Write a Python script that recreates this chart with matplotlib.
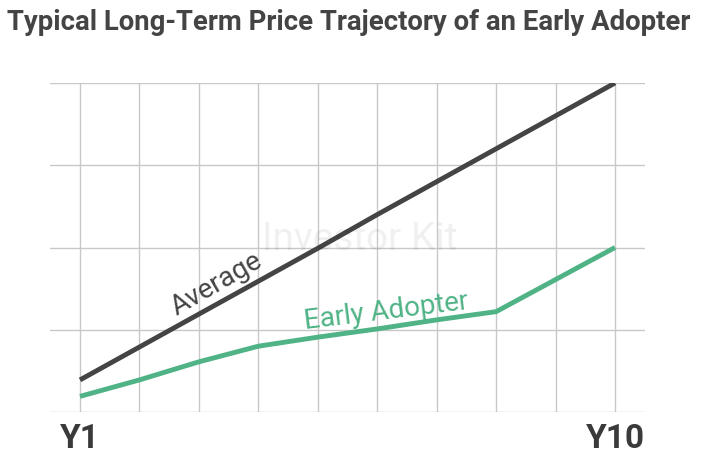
import matplotlib
matplotlib.use("Agg")
import matplotlib.pyplot as plt
import numpy as np

years = list(range(1, 11))
average = [0.39, 0.79, 1.19, 1.59, 1.99, 2.40, 2.80, 3.20, 3.60, 4.0]
early = [0.19, 0.39, 0.61, 0.80, 0.91, 1.01, 1.12, 1.22, 1.61, 2.0]
tick_labels = {1: "Y1", 10: "Y10"}

plt.rcParams['font.family'] = ['Roboto', 'DejaVu Sans']
fig = plt.figure(figsize=(7.04, 4.59), dpi=100)
ax = fig.add_axes([50/704, 1-412/459, 595/704, 329/459])
xmin = 1 - (80-50)/(615-80)*9
xmax = 10 + (645-615)/(615-80)*9
ax.set_xlim(xmin, xmax)
ax.set_ylim(0, 4)
ax.set_xticks(years)
ax.set_yticks([0, 1, 2, 3, 4])
ax.grid(True, color='#c8c8c8', lw=1)
ax.tick_params(length=0, pad=8)
ax.set_yticklabels([])
ax.set_xticklabels([tick_labels.get(y, "") for y in years], fontsize=24, fontweight='bold', color='#3a3a3a')
for s in ax.spines.values():
    s.set_visible(False)
ax.plot(years, average, color='#444444', lw=3.5, solid_capstyle='butt')
ax.plot(years, early, color='#4fb386', lw=3.5, solid_capstyle='butt', solid_joinstyle='round')
ax.text(3.3, 1.55, "Average", rotation=30, fontsize=20, color='#444444', ha='center', va='center')
ax.text(6.15, 1.22, "Early Adopter", rotation=7, fontsize=20, color='#4fb386', ha='center', va='center')
ax.text(5.7, 2.1, "Investor Kit", fontsize=28, color='#000000', alpha=0.06, ha='center', va='center')
fig.text(0.495, 1-22/459, "Typical Long-Term Price Trajectory of an Early Adopter", ha='center', va='center',
         fontsize=19.8, fontweight='bold', color='#444444')
fig.savefig("out.png", dpi=100)
